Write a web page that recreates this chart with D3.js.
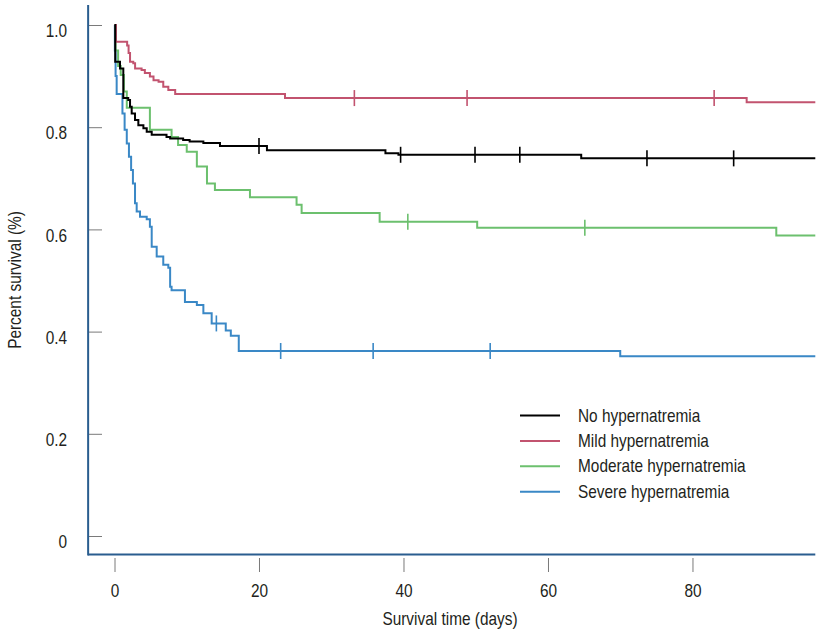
<!DOCTYPE html>
<html>
<head>
<meta charset="utf-8">
<script src="https://cdn.jsdelivr.net/npm/d3@7/dist/d3.min.js"></script>
<style>
  html, body { margin: 0; padding: 0; background: #fff; }
  svg { display: block; }
  text { font-family: 'Liberation Sans', Arial, sans-serif; fill: #231f20; }
</style>
</head>
<body>
<svg id="chart" width="825" height="632"></svg>
<script>
// ---------- data ----------
const seriesNames = ["No hypernatremia", "Mild hypernatremia", "Moderate hypernatremia", "Severe hypernatremia"];
const seriesColors = ["#000000", "#c2536f", "#6cc06e", "#3a88c6"];

const noTimes = [0, 0.1, 0.76, 1.22, 1.9, 2.15, 2.38, 2.84, 3.3, 4.0, 4.46, 5.15, 7.2, 7.7, 9.5, 10.4, 12.3, 14.6, 21.1, 37.5, 39.3, 64.6, 97];
const noSurv  = [1.0, 0.928, 0.915, 0.857, 0.853, 0.840, 0.827, 0.814, 0.804, 0.798, 0.791, 0.785, 0.781, 0.778, 0.775, 0.772, 0.769, 0.763, 0.755, 0.749, 0.746, 0.739, 0.739];
const noCensor = [20.0, 39.6, 49.9, 56.1, 73.7, 85.7];

const mildTimes = [0, 0.2, 1.75, 1.95, 2.15, 2.6, 2.85, 3.75, 4.2, 4.9, 5.4, 6.1, 6.75, 7.45, 8.4, 23.6, 87.5, 97];
const mildSurv  = [1.0, 0.967, 0.960, 0.945, 0.928, 0.925, 0.915, 0.912, 0.906, 0.899, 0.892, 0.889, 0.879, 0.873, 0.865, 0.857, 0.849, 0.849];
const mildCensor = [33.2, 48.8, 83.0];

const modTimes = [0, 0.15, 0.5, 0.86, 1.3, 1.7, 4.9, 7.9, 8.8, 10.0, 11.4, 12.8, 13.9, 18.75, 25.2, 25.9, 36.7, 50.2, 91.6, 97];
const modSurv  = [1.0, 0.95, 0.92, 0.902, 0.870, 0.838, 0.795, 0.781, 0.765, 0.752, 0.723, 0.690, 0.677, 0.663, 0.648, 0.632, 0.615, 0.603, 0.588, 0.588];
const modCensor = [40.6, 65.1];

const sevTimes = [0, 0.05, 0.15, 0.3, 1.1, 1.4, 1.7, 2.0, 2.3, 2.55, 2.84, 3.07, 3.53, 4.46, 4.9, 5.15, 5.84, 6.75, 7.45, 7.7, 7.9, 9.75, 11.4, 12.3, 13.45, 15.4, 16.1, 17.2, 70, 97];
const sevSurv  = [1.0, 0.95, 0.90, 0.865, 0.827, 0.795, 0.768, 0.742, 0.716, 0.690, 0.651, 0.635, 0.625, 0.620, 0.605, 0.566, 0.547, 0.531, 0.525, 0.488, 0.481, 0.458, 0.452, 0.436, 0.416, 0.402, 0.392, 0.362, 0.352, 0.352];
const sevCensor = [14.1, 23.0, 35.8, 52.0];

const xTicks = [0, 20, 40, 60, 80];
const yTicks = [0, 0.2, 0.4, 0.6, 0.8, 1.0];
const yTickLabels = ["0", "0.2", "0.4", "0.6", "0.8", "1.0"];

// ---------- layout ----------
const FS = 19, SQUEEZE = 0.81;
function condense(sel) {
  sel.each(function () {
    const w = this.getComputedTextLength();
    d3.select(this).attr("textLength", w * SQUEEZE).attr("lengthAdjust", "spacingAndGlyphs");
  });
}
const svg = d3.select("#chart");
const x = d3.scaleLinear().domain([0, 97]).range([114.5, 815.3]);
const y = d3.scaleLinear().domain([0, 1]).range([536, 25]);
const frameLeft = x(-3.65), frameBottom = 554.5, frameTop = 5;

const series = [
  {times: noTimes, surv: noSurv, censor: noCensor},
  {times: mildTimes, surv: mildSurv, censor: mildCensor},
  {times: modTimes, surv: modSurv, censor: modCensor},
  {times: sevTimes, surv: sevSurv, censor: sevCensor}
];

// y axis
const yAxis = d3.axisLeft(y).tickValues(yTicks)
  .tickFormat((d, i) => yTickLabels[i])
  .tickSizeInner(-(102 - frameLeft)).tickSizeOuter(0).tickPadding(21);
const gy = svg.append("g").attr("transform", `translate(${frameLeft},0)`).call(yAxis);
gy.select(".domain").remove();
gy.selectAll(".tick line").attr("stroke", "#7a7a7a").attr("stroke-width", 1);
gy.selectAll(".tick text").attr("font-size", FS).attr("dy", "0.62em").attr("fill", "#231f20")
  .style("font-family", "'Liberation Sans', Arial, sans-serif").call(condense);

// x axis
const xAxis = d3.axisBottom(x).tickValues(xTicks).tickFormat(d3.format("d"))
  .tickSizeInner(14).tickSizeOuter(0).tickPadding(11.5);
const gx = svg.append("g").attr("transform", `translate(0,558)`).call(xAxis);
gx.select(".domain").remove();
gx.selectAll(".tick line").attr("stroke", "#7a7a7a").attr("stroke-width", 1);
gx.selectAll(".tick text").attr("font-size", FS).attr("fill", "#231f20")
  .style("font-family", "'Liberation Sans', Arial, sans-serif").call(condense);

// frame
svg.append("line").attr("x1", frameLeft).attr("x2", frameLeft).attr("y1", frameTop).attr("y2", frameBottom + 1)
  .attr("stroke", "#2a5d8f").attr("stroke-width", 2);
svg.append("line").attr("x1", frameLeft).attr("x2", x(97)).attr("y1", frameBottom).attr("y2", frameBottom)
  .attr("stroke", "#2a5d8f").attr("stroke-width", 2);

// axis titles
svg.append("text").attr("x", 450).attr("y", 625).attr("text-anchor", "middle").attr("font-size", FS)
  .text("Survival time (days)").call(condense);
svg.append("text").attr("transform", "translate(21,280) rotate(-90)").attr("text-anchor", "middle").attr("font-size", FS)
  .text("Percent survival (%)").call(condense);

// curves
const line = d3.line().x(d => x(d[0])).y(d => y(d[1])).curve(d3.curveStepAfter);
function survAt(s, t) {
  let v = s.surv[0];
  for (let i = 0; i < s.times.length; i++) { if (s.times[i] <= t) v = s.surv[i]; }
  return v;
}
[3, 2, 1, 0].forEach(i => {
  const s = series[i];
  const pts = s.times.map((t, j) => [t, s.surv[j]]);
  svg.append("path").datum(pts).attr("d", line).attr("fill", "none")
    .attr("stroke", seriesColors[i]).attr("stroke-width", 2);
  svg.selectAll(null).data(s.censor).enter().append("line")
    .attr("x1", d => x(d)).attr("x2", d => x(d))
    .attr("y1", d => y(survAt(s, d)) - 8).attr("y2", d => y(survAt(s, d)) + 8)
    .attr("stroke", seriesColors[i]).attr("stroke-width", 1.6);
});

// legend
const legend = svg.append("g");
seriesNames.forEach((name, i) => {
  const ly = 415.5 + i * 25.4;
  legend.append("line").attr("x1", 520).attr("x2", 560).attr("y1", ly).attr("y2", ly)
    .attr("stroke", seriesColors[i]).attr("stroke-width", 2);
  legend.append("text").attr("x", 578).attr("y", ly + 6).attr("font-size", FS).text(name).call(condense);
});
</script>
</body>
</html>
